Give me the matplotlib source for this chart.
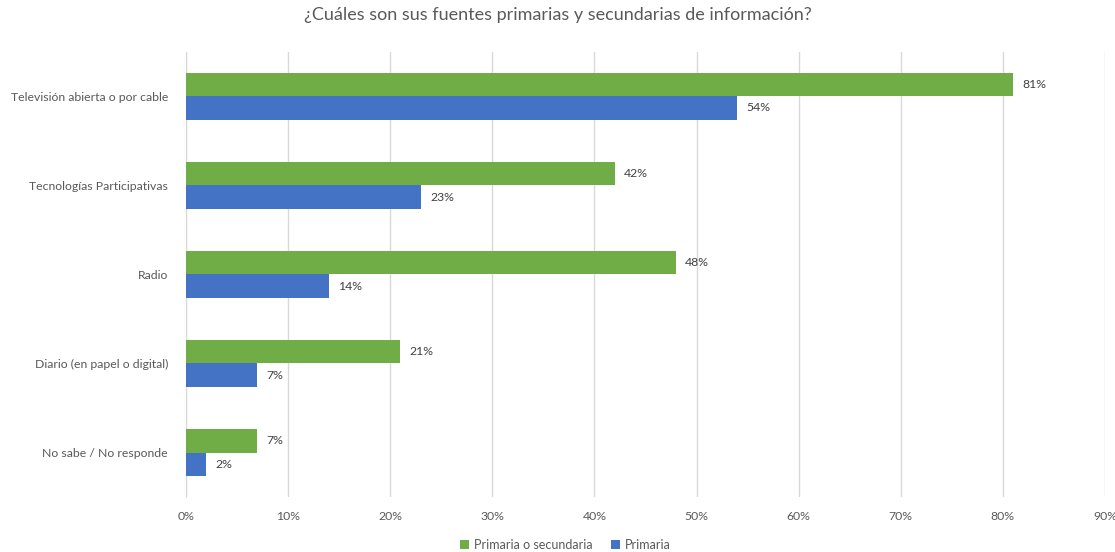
import numpy as np
import matplotlib.pyplot as plt

categorias = ['Televisión abierta o por cable', 'Tecnologías Participativas', 'Radio',
              'Diario (en papel o digital)', 'No sabe / No responde']
prim_o_sec = [81, 42, 48, 21, 7]
primaria = [54, 23, 14, 7, 2]

plt.rcParams['font.family'] = ['Lato', 'DejaVu Sans']

fig = plt.figure(figsize=(11.15, 5.52), dpi=100)
ax = fig.add_axes([0.1668, 0.0996, 0.8242, 0.8064])

y = np.arange(len(categorias))
h = 0.26
verde = '#70AD47'
azul = '#4472C4'

b1 = ax.barh(y - h / 2, prim_o_sec, height=h, color=verde, label='Primaria o secundaria', zorder=3)
b2 = ax.barh(y + h / 2, primaria, height=h, color=azul, label='Primaria', zorder=3)

for bars, vals in [(b1, prim_o_sec), (b2, primaria)]:
    for bar, v in zip(bars, vals):
        ax.text(bar.get_width() + 0.9, bar.get_y() + bar.get_height() / 2, f'{v}%',
                va='center', ha='left', fontsize=8.8, color='#404040')

ax.set_xlim(0, 90)
ax.set_ylim(len(categorias) - 0.5, -0.5)
ax.set_xticks(range(0, 91, 10))
ax.set_xticklabels([f'{t}%' for t in range(0, 91, 10)])
ax.set_yticks(y)
ax.set_yticklabels(categorias)
ax.tick_params(axis='both', length=0, labelsize=8.8, labelcolor='#595959')
ax.tick_params(axis='x', pad=10)
ax.tick_params(axis='y', pad=13)
ax.grid(axis='x', color='#D9D9D9', linewidth=1, zorder=0)
for s in ['top', 'right', 'bottom']:
    ax.spines[s].set_visible(False)
ax.spines['left'].set_color('#D9D9D9')

fig.suptitle('¿Cuáles son sus fuentes primarias y secundarias de información?',
             y=0.988, fontsize=13, color='#595959')

fig.legend(loc='lower center', bbox_to_anchor=(0.507, -0.018), ncol=2, frameon=False,
           fontsize=9, handlelength=0.7, handleheight=0.7, columnspacing=1.5,
           handletextpad=0.4, labelcolor='#595959')

fig.savefig('out.png', dpi=100)
